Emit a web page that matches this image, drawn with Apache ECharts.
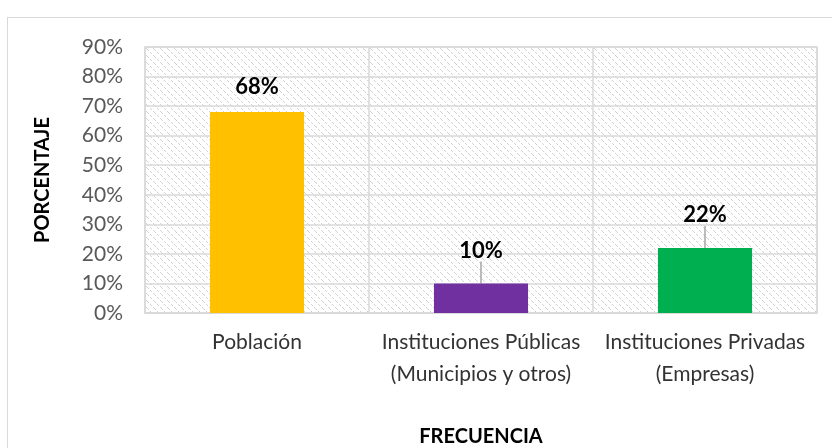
<!DOCTYPE html>
<html>
<head>
<meta charset="utf-8">
<script src="https://cdn.jsdelivr.net/npm/echarts@6/dist/echarts.min.js"></script>
<style>
  html, body { margin: 0; padding: 0; background: #fff; }
  #frame { position: absolute; left: 7px; top: 17px; width: 900px; height: 500px; border: 1px solid #d9d9d9; }
  #chart { position: absolute; left: 0; top: 0; width: 832px; height: 448px; }
</style>
</head>
<body>
<div id="frame"></div>
<div id="chart"></div>
<script>
// datos del gráfico
const categories = ['Población', 'Instituciones Públicas\n(Municipios y otros)', 'Instituciones Privadas\n(Empresas)']
const percentages = [68, 10, 22]
const barColors = ['#FFC000', '#7030A0', '#00B050']
const yTicks = [0, 10, 20, 30, 40, 50, 60, 70, 80, 90]

// patrón rayado del fondo
function makeHatch () {
  const c = document.createElement('canvas')
  c.width = 7
  c.height = 7
  const ctx = c.getContext('2d')
  ctx.fillStyle = '#fff'
  ctx.fillRect(0, 0, 7, 7)
  ctx.fillStyle = '#d3d3d3'
  for (let i = 0; i < 7; i++) {
    if (i % 3 !== 2) ctx.fillRect(i, i, 1, 1)
  }
  return c
}

const font = 'Lato, "Open Sans", sans-serif'
const chart = echarts.init(document.getElementById('chart'))
chart.setOption({
  animation: false,
  grid: {
    left: 145, right: 15, top: 47, bottom: 135,
    outerBoundsMode: 'none',
    containLabel: false,
    show: true,
    borderColor: '#d9d9d9',
    borderWidth: 1.5,
    backgroundColor: { image: makeHatch(), repeat: 'repeat' }
  },
  xAxis: {
    type: 'category',
    data: categories,
    name: 'FRECUENCIA',
    nameLocation: 'middle',
    nameGap: 114,
    nameTextStyle: { fontFamily: font, fontSize: 20, fontWeight: 'bold', color: '#000' },
    axisLine: { lineStyle: { color: '#d9d9d9', width: 1.5 } },
    axisTick: { show: false },
    splitLine: { show: true, interval: 0, lineStyle: { color: '#d9d9d9', width: 1.5 } },
    axisLabel: { interval: 0, hideOverlap: false, fontFamily: font, fontSize: 21, color: '#333', margin: 13, lineHeight: 32 }
  },
  yAxis: {
    type: 'value',
    min: yTicks[0],
    max: yTicks[yTicks.length - 1],
    interval: 10,
    name: 'PORCENTAJE',
    nameLocation: 'middle',
    nameGap: 92,
    nameTextStyle: { fontFamily: font, fontSize: 20, fontWeight: 'bold', color: '#000' },
    axisLine: { show: false },
    axisTick: { show: false },
    splitLine: { lineStyle: { color: '#d9d9d9', width: 1.5 } },
    axisLabel: { fontFamily: font, fontSize: 21, color: '#595959', margin: 22, formatter: '{value}%' }
  },
  series: [{
    type: 'bar',
    barWidth: '42%',
    data: percentages.map((v, i) => ({
      value: v,
      itemStyle: { color: barColors[i] },
      labelLine: { show: i > 0 }
    })),
    label: {
      show: true,
      position: 'top',
      distance: 2,
      formatter: '{c}%',
      fontFamily: font,
      fontSize: 22,
      fontWeight: 'bold',
      color: '#000'
    },
    labelLayout: function (params) {
      return { dy: params.dataIndex === 0 ? -12 : -20 }
    },
    labelLine: { lineStyle: { color: '#a6a6a6', width: 1.5 } }
  }]
})
</script>
</body>
</html>
